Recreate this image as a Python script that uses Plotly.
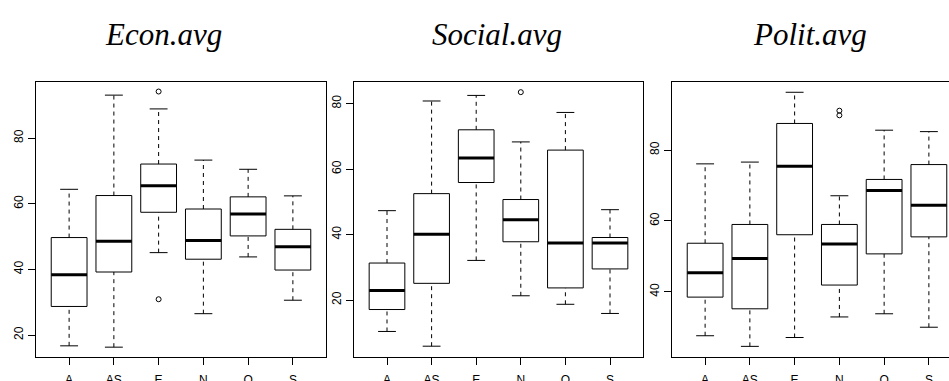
import plotly.graph_objects as go

# Groups along the x axis
categories = ["A", "AS", "E", "N", "O", "S"]

# Econ.avg five-number summaries per group
econ_low = [16.7, 16.3, 45.1, 26.5, 43.8, 30.6]
econ_q1 = [28.7, 39.2, 57.4, 43.1, 50.2, 39.8]
econ_med = [38.4, 48.6, 65.5, 48.8, 56.9, 46.9]
econ_q3 = [49.7, 62.5, 72.1, 58.4, 62.1, 52.2]
econ_high = [64.4, 93.1, 88.9, 73.3, 70.5, 62.4]
econ_outliers = {"E": [94.2, 30.9]}

# Social.avg
social_low = [10.4, 5.9, 32.1, 21.3, 18.7, 15.9]
social_q1 = [17.1, 25.1, 55.9, 37.8, 23.7, 29.5]
social_med = [22.9, 40.1, 63.4, 44.5, 37.4, 37.4]
social_q3 = [31.3, 52.5, 72.0, 50.7, 65.8, 39.1]
social_high = [47.3, 80.8, 82.5, 68.3, 77.3, 47.6]
social_outliers = {"N": [83.5]}

# Polit.avg
polit_low = [27.6, 24.6, 27.1, 32.9, 33.8, 30.0]
polit_q1 = [38.5, 35.2, 56.1, 41.9, 50.7, 55.5]
polit_med = [45.4, 49.4, 75.4, 53.5, 68.6, 64.4]
polit_q3 = [53.7, 59.0, 87.5, 59.0, 71.7, 75.9]
polit_high = [76.1, 76.6, 96.3, 67.1, 85.6, 85.2]
polit_outliers = {"N": [91.1, 89.8]}

panel_titles = ["Econ.avg", "Social.avg", "Polit.avg"]
y_ticks = [[20, 40, 60, 80], [20, 40, 60, 80], [40, 60, 80]]
y_ranges = [[13.3, 97.1], [2.6, 86.6], [21.6, 99.2]]

panels = [
    (econ_low, econ_q1, econ_med, econ_q3, econ_high, econ_outliers),
    (social_low, social_q1, social_med, social_q3, social_high, social_outliers),
    (polit_low, polit_q1, polit_med, polit_q3, polit_high, polit_outliers),
]

W, H = 949, 381
# plot-area pixel extents of each panel (left, right) and shared (top, bottom)
x_doms = [(36, 326), (354, 643), (672, 949)]
top_px, bot_px = 82, 357
px_per_unit = 290 / 6.48
x_ranges = [[0.26, 6.74], [0.26, 6.74],
            [0.26, 0.26 + (949 - 672) / px_per_unit]]

BOXW = 0.4    # half box width
CAPW = 0.2    # half staple width

fig = go.Figure()
layout = dict(
    width=W, height=H,
    margin=dict(l=0, r=0, t=0, b=0),
    paper_bgcolor="white", plot_bgcolor="white",
    showlegend=False,
)

for k, (low, q1, med, q3, high, outl) in enumerate(panels):
    xa = "x" if k == 0 else f"x{k+1}"
    ya = "y" if k == 0 else f"y{k+1}"
    bx, by, wx, wy, cx, cy, mx, my, ox, oy = ([] for _ in range(10))
    for i, cat in enumerate(categories):
        p = i + 1
        bx += [p - BOXW, p + BOXW, p + BOXW, p - BOXW, p - BOXW, None]
        by += [q1[i], q1[i], q3[i], q3[i], q1[i], None]
        wx += [p, p, None, p, p, None]
        wy += [q3[i], high[i], None, low[i], q1[i], None]
        cx += [p - CAPW, p + CAPW, None, p - CAPW, p + CAPW, None]
        cy += [high[i], high[i], None, low[i], low[i], None]
        mx += [p - BOXW, p + BOXW, None]
        my += [med[i], med[i], None]
        for v in outl.get(cat, []):
            ox.append(p)
            oy.append(v)
    fig.add_trace(go.Scatter(x=wx, y=wy, mode="lines", xaxis=xa, yaxis=ya,
                             line=dict(color="black", width=1, dash="4px,4px"),
                             hoverinfo="skip"))
    fig.add_trace(go.Scatter(x=cx, y=cy, mode="lines", xaxis=xa, yaxis=ya,
                             line=dict(color="black", width=1), hoverinfo="skip"))
    fig.add_trace(go.Scatter(x=bx, y=by, mode="lines", xaxis=xa, yaxis=ya,
                             line=dict(color="black", width=1), hoverinfo="skip"))
    fig.add_trace(go.Scatter(x=mx, y=my, mode="lines", xaxis=xa, yaxis=ya,
                             line=dict(color="black", width=3), hoverinfo="skip"))
    if ox:
        fig.add_trace(go.Scatter(x=ox, y=oy, mode="markers", xaxis=xa, yaxis=ya,
                                 marker=dict(symbol="circle-open", size=5,
                                             color="black", line=dict(width=1)),
                                 hoverinfo="skip"))

    xl, xr = x_doms[k]
    xkey = "xaxis" if k == 0 else f"xaxis{k+1}"
    ykey = "yaxis" if k == 0 else f"yaxis{k+1}"
    layout[xkey] = dict(
        domain=[xl / W, xr / W], anchor=ya, range=x_ranges[k],
        tickmode="array", tickvals=list(range(1, len(categories) + 1)),
        ticktext=categories, ticks="outside", ticklen=7, tickwidth=1,
        tickcolor="black", showline=True, linecolor="black", linewidth=1,
        mirror=True, showgrid=False, zeroline=False, automargin=False,
        ticklabelstandoff=5,
        tickfont=dict(family="Liberation Sans, Arial, sans-serif", size=12,
                      color="black"),
    )
    layout[ykey] = dict(
        domain=[1 - bot_px / H, 1 - top_px / H], anchor=xa, range=y_ranges[k],
        tickmode="array", tickvals=y_ticks[k], tickangle=-90,
        ticks="outside", ticklen=7, tickwidth=1, tickcolor="black",
        showline=True, linecolor="black", linewidth=1,
        mirror=(k != 2), showgrid=False, zeroline=False, automargin=False,
        tickfont=dict(family="Liberation Sans, Arial, sans-serif", size=12,
                      color="black"),
    )

title_x = [163.5, 497, 810]
layout["annotations"] = [
    dict(text=t, x=cx_ / W, y=1 - 35 / H, xref="paper", yref="paper",
         xanchor="center", yanchor="middle", showarrow=False,
         font=dict(family="Liberation Serif, Times New Roman, serif",
                   size=31, color="black", style="italic"))
    for t, cx_ in zip(panel_titles, title_x)
]

fig.update_layout(**layout)
fig.write_html("out.html")
